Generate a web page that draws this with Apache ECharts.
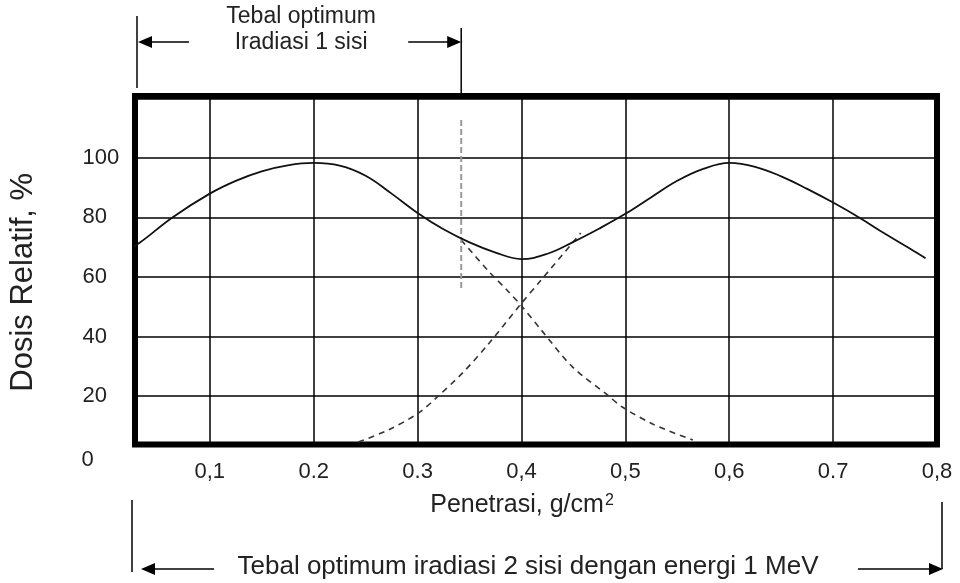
<!DOCTYPE html>
<html>
<head>
<meta charset="utf-8">
<title>Dosis Relatif vs Penetrasi</title>
<script src="https://cdn.jsdelivr.net/npm/echarts@6/dist/echarts.min.js"></script>
<style>
  html, body { margin: 0; padding: 0; background: #fff; }
  #chart { width: 960px; height: 583px; }
</style>
</head>
<body>
<div id="chart"></div>
<script>
// tick labels as printed on the figure (mixed decimal separators kept)
const xTickLabels = ['0,1', '0.2', '0.3', '0,4', '0,5', '0,6', '0.7', '0,8'];
const yTickLabels = ['0', '20', '40', '60', '80', '100'];

// total dose, irradiated from two sides (penetration g/cm2 -> relative dose %)
const totalX = [0.007, 0.032, 0.064, 0.1, 0.125, 0.15, 0.175, 0.2, 0.225, 0.25, 0.275, 0.3, 0.325, 0.35, 0.375,
  0.4, 0.425, 0.45, 0.475, 0.5, 0.525, 0.55, 0.575, 0.6, 0.625, 0.65, 0.675, 0.7, 0.725, 0.75, 0.775, 0.789];
const totalY = [66, 71.4, 80, 88, 92.3, 95.5, 97.5, 98.3, 97.4, 94, 88, 81.5, 76, 71.6, 68.2,
  66, 67.8, 71.8, 76.3, 81.2, 86.8, 92.3, 96.3, 98.3, 97, 93.8, 89.6, 85, 80, 74.5, 69.3, 66.3];

// dose from the first side (falling) and from the second side (rising)
const side1X = [0.342, 0.369, 0.386, 0.4, 0.419, 0.449, 0.483, 0.497, 0.528, 0.565];
const side1Y = [72.4, 61.7, 55.6, 50.3, 42.2, 29.8, 20.3, 16.3, 10.3, 5.2];
const side2X = [0.243, 0.272, 0.301, 0.319, 0.344, 0.369, 0.398, 0.419, 0.449, 0.457];
const side2Y = [4.5, 8.6, 14.3, 19.7, 28, 37.8, 50.3, 59, 71.4, 74.8];

// optimum thickness for one-sided irradiation
const optimumX = [0.342, 0.342];
const optimumY = [56.3, 113.4];

const X_MIN = 0.028;
const X_MAX = 0.8;
const Y_MIN = 3.7;
const Y_MAX = 120.8;

const FONT = '"Liberation Sans", Arial, sans-serif';
const TEXT = '#222';

const pairs = (xs, ys) => xs.map((x, i) => [x, ys[i]]);

const chart = echarts.init(document.getElementById('chart'));

chart.setOption({
  animation: false,
  backgroundColor: '#fff',
  grid: {
    left: 134,
    right: 23,
    top: 96,
    bottom: 138.5,
    show: true,
    borderColor: '#000',
    borderWidth: 6,
  },
  xAxis: {
    type: 'value',
    min: X_MIN,
    max: X_MAX,
    splitNumber: 8,
    minInterval: 0.1,
    maxInterval: 0.1,
    axisLine: { show: false },
    axisTick: { show: false },
    splitLine: { show: true, lineStyle: { color: '#000', width: 1.5 } },
    axisLabel: {
      margin: 16,
      fontSize: 22,
      fontFamily: FONT,
      color: TEXT,
      showMinLabel: false,
      formatter: (v) => xTickLabels[Math.round(v * 10) - 1] || '',
    },
    name: '{t|Penetrasi, g/cm}{s|2}',
    nameLocation: 'middle',
    nameGap: 48,
    nameTextStyle: {
      padding: [0, 28, 0, 0],
      rich: {
        t: { fontSize: 25, fontFamily: FONT, color: TEXT },
        s: { fontSize: 16, fontFamily: FONT, color: TEXT, verticalAlign: 'top', padding: [0, 0, 0, 1] },
      },
    },
  },
  yAxis: {
    type: 'value',
    min: Y_MIN,
    max: Y_MAX,
    splitNumber: 6,
    minInterval: 20,
    maxInterval: 20,
    axisLine: { show: false },
    axisTick: { show: false },
    splitLine: { show: true, lineStyle: { color: '#000', width: 1.5 } },
    axisLabel: {
      align: 'left',
      margin: 52.5,
      fontSize: 22,
      fontFamily: FONT,
      color: TEXT,
      formatter: (v) => (yTickLabels.indexOf(String(v)) > 0 ? String(v) : ''),
    },
    name: 'Dosis Relatif, %',
    nameLocation: 'middle',
    nameGap: 96,
    nameTextStyle: {
      fontSize: 31,
      fontFamily: FONT,
      color: TEXT,
      padding: [0, 24, 0, 0],
    },
  },
  series: [
    {
      type: 'line',
      data: pairs(totalX, totalY),
      smooth: 0.4,
      showSymbol: false,
      lineStyle: { color: '#111', width: 1.8 },
      z: 5,
    },
    {
      type: 'line',
      data: pairs(side1X, side1Y),
      smooth: 0.3,
      showSymbol: false,
      lineStyle: { color: '#333', width: 1.6, type: [6, 5] },
    },
    {
      type: 'line',
      data: pairs(side2X, side2Y),
      smooth: 0.3,
      showSymbol: false,
      lineStyle: { color: '#333', width: 1.6, type: [6, 5] },
    },
    {
      type: 'line',
      data: pairs(optimumX, optimumY),
      showSymbol: false,
      lineStyle: { color: '#999', width: 2, type: [6, 3] },
    },
  ],
});

// annotation arrows above and below the plot, anchored to the axes
const px = (x, y) => chart.convertToPixel({ gridIndex: 0 }, [x, y]);
const [gx0] = px(X_MIN, Y_MIN);
const [gx1, gyTop] = px(X_MAX, Y_MAX);
const xOpt = px(optimumX[0], Y_MIN)[0];
const yZero = px(X_MIN, 0)[1];

function vline(x, y1, y2) {
  return { type: 'line', shape: { x1: x, y1: y1, x2: x, y2: y2 }, style: { stroke: '#000', lineWidth: 1.5 } };
}

function arrow(from, tip, y) {
  const dir = tip > from ? 1 : -1;
  return [
    { type: 'line', shape: { x1: from, y1: y, x2: tip - dir * 10, y2: y }, style: { stroke: '#000', lineWidth: 1.5 } },
    {
      type: 'polygon',
      shape: { points: [[tip, y], [tip - dir * 14, y - 6], [tip - dir * 14, y + 6]] },
      style: { fill: '#000' },
    },
  ];
}

function label(text, x, y, size, lineHeight) {
  return {
    type: 'text',
    x: x,
    y: y,
    style: {
      text: text,
      fontSize: size,
      fontFamily: FONT,
      fill: TEXT,
      align: 'center',
      verticalAlign: 'middle',
      lineHeight: lineHeight || size,
    },
  };
}

const topY = 42;
const bottomY = 569;

chart.setOption({
  graphic: [
    vline(gx0 + 2, 16, 88),
    vline(xOpt, 28, gyTop - 3),
    ...arrow(gx0 + 54, gx0 + 3, topY),
    ...arrow(xOpt - 53, xOpt, topY),
    label('Tebal optimum\nIradiasi 1 sisi', (gx0 + xOpt) / 2 + 3, 30, 23, 26),

    vline(gx0 - 3, 500, 572),
    vline(gx1 + 5, 502, bottomY),
    ...arrow(gx0 + 79, gx0 + 6, bottomY),
    ...arrow(gx1 - 79, gx1 + 6, bottomY),
    label('Tebal optimum iradiasi 2 sisi dengan energi 1 MeV', 528, 567, 26),

    {
      type: 'text',
      x: 81.5,
      y: yZero + 4,
      style: {
        text: yTickLabels[0],
        fontSize: 22,
        fontFamily: FONT,
        fill: TEXT,
        align: 'left',
        verticalAlign: 'middle',
      },
    },
  ],
});
</script>
</body>
</html>
